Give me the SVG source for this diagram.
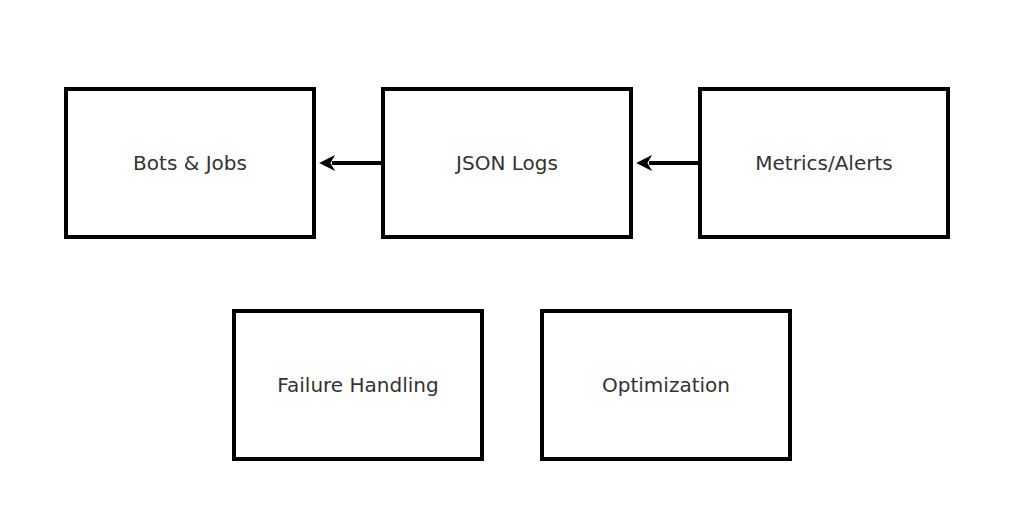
<svg xmlns="http://www.w3.org/2000/svg" width="1023" height="524" viewBox="0 0 1023 524">
<style>
.box{fill:#fff;stroke:#000;stroke-width:4}
.lbl{font-family:"DejaVu Sans",sans-serif;font-size:20px;fill:#333;text-anchor:middle;dominant-baseline:central}
.edge{stroke:#000;stroke-width:4;fill:none}
</style>
<defs>
<marker id="ah" viewBox="0 0 10 10" refX="2" refY="5" markerWidth="4" markerHeight="4" orient="auto" markerUnits="strokeWidth">
<path d="M0,0 L10,5 L0,10 L3,5 z" fill="#000"/>
</marker>
</defs>
<rect width="1023" height="524" fill="#fff"/>
<g id="bots"><rect class="box" x="66" y="89" width="248" height="148"/><text class="lbl" x="190" y="163">Bots &amp; Jobs</text></g>
<g id="json"><rect class="box" x="383" y="89" width="248" height="148"/><text class="lbl" x="507" y="163">JSON Logs</text></g>
<g id="metrics"><rect class="box" x="700" y="89" width="248" height="148"/><text class="lbl" x="824" y="163">Metrics/Alerts</text></g>
<g id="failure"><rect class="box" x="234" y="311" width="248" height="148"/><text class="lbl" x="358" y="385">Failure Handling</text></g>
<g id="opt"><rect class="box" x="542" y="311" width="248" height="148"/><text class="lbl" x="666" y="385">Optimization</text></g>
<g id="edges">
<line class="edge" x1="381" y1="163" x2="332" y2="163" marker-end="url(#ah)"/>
<line class="edge" x1="698" y1="163" x2="649" y2="163" marker-end="url(#ah)"/>
</g>
</svg>
